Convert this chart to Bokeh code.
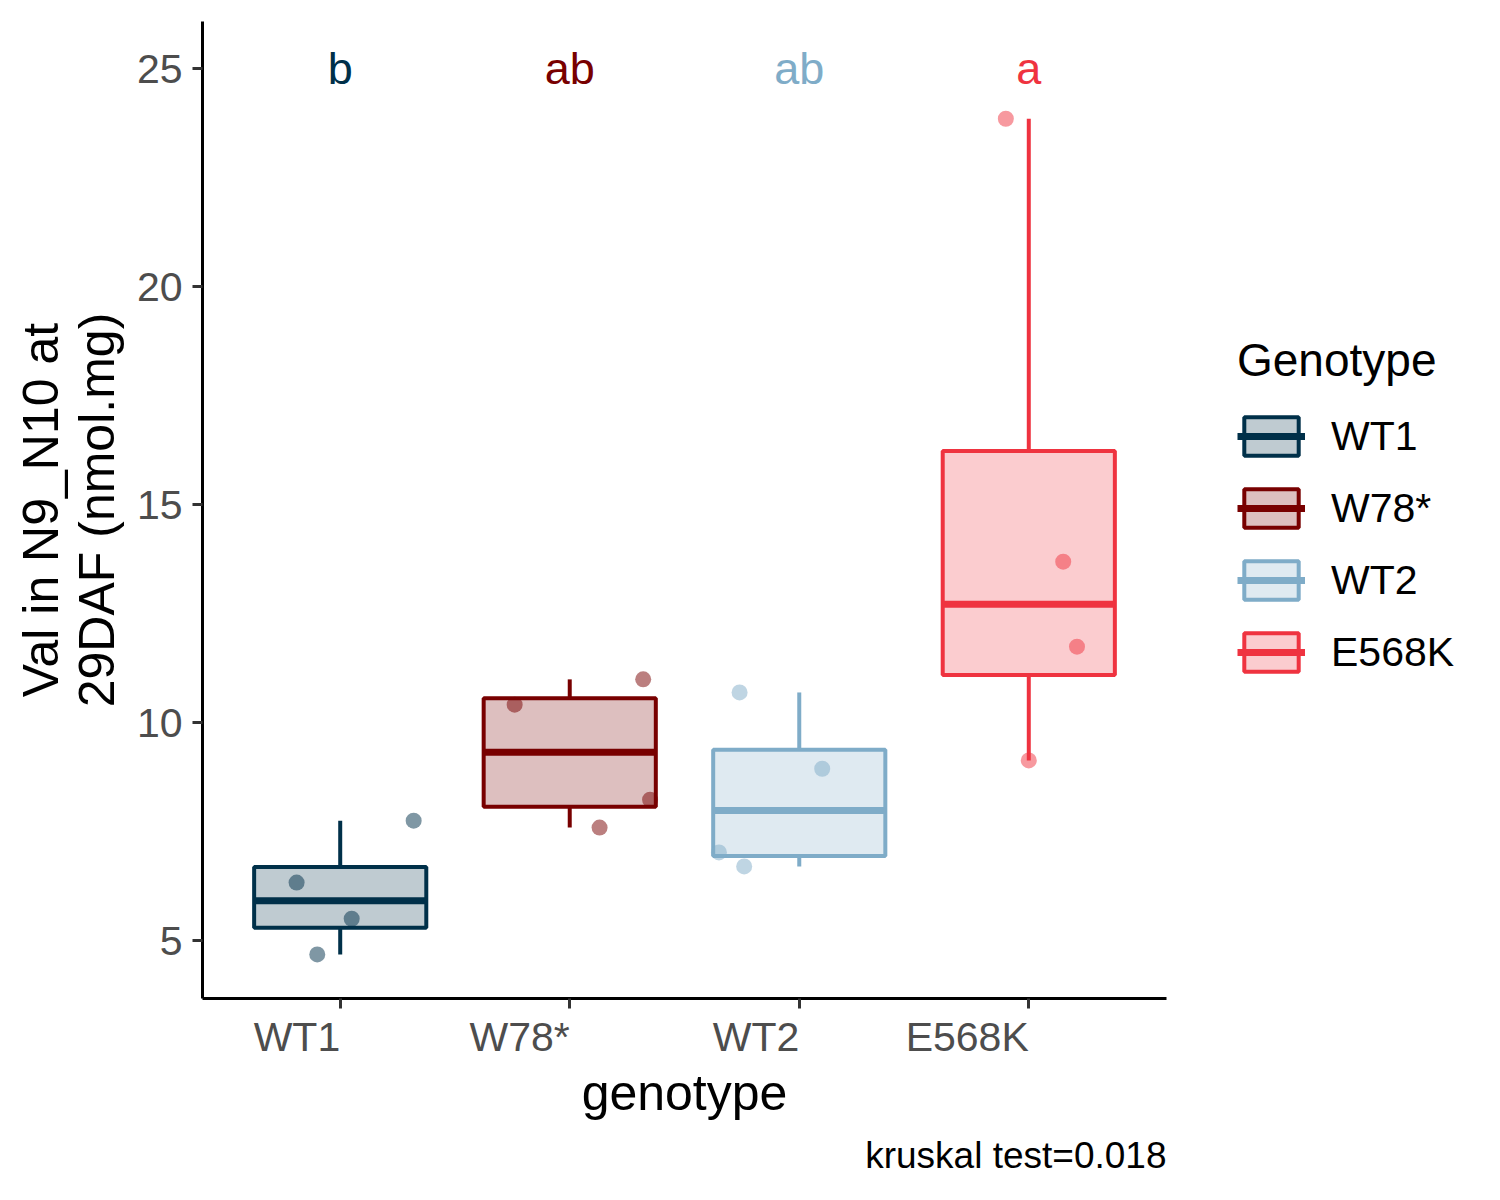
import numpy as np
from bokeh.plotting import figure
from bokeh.models import (ColumnDataSource, Range1d, FactorRange, FixedTicker,
                          Legend, LegendItem, Title)
from bokeh.embed import file_html
from bokeh.resources import INLINE

genotypes = ["WT1", "W78*", "WT2", "E568K"]
colors = ["#003049", "#780000", "#7FACC8", "#EF3340"]
letters = ["b", "ab", "ab", "a"]
letter_y = 25

# values, with the horizontal jitter of each point
values = {
    "WT1": [4.68, 5.50, 6.33, 7.75],
    "W78*": [7.59, 8.23, 10.41, 10.99],
    "WT2": [6.70, 7.02, 8.94, 10.69],
    "E568K": [9.13, 11.74, 13.69, 23.85],
}
jitter = {
    "WT1": [-0.10, 0.05, -0.19, 0.32],
    "W78*": [0.13, 0.35, -0.24, 0.32],
    "WT2": [-0.24, -0.35, 0.10, -0.26],
    "E568K": [0.0, 0.21, 0.15, -0.10],
}
y_ticks = [5, 10, 15, 20, 25]
caption = "kruskal test=0.018"

FONT = "Liberation Sans"
BOX_W = 0.75

# boxplot statistics (same rules as ggplot)
q1s, meds, q3s, lows, highs = [], [], [], [], []
for g in genotypes:
    v = np.array(values[g])
    q1, med, q3 = np.percentile(v, [25, 50, 75])
    iqr = q3 - q1
    lows.append(v[v >= q1 - 1.5 * iqr].min())
    highs.append(v[v <= q3 + 1.5 * iqr].max())
    q1s.append(q1)
    meds.append(med)
    q3s.append(q3)

box_src = ColumnDataSource(dict(
    g=genotypes, color=colors, q1=q1s, med=meds, q3=q3s, low=lows, high=highs,
    left=[(g, -BOX_W / 2) for g in genotypes],
    right=[(g, BOX_W / 2) for g in genotypes],
    letter=letters, ly=[letter_y] * len(genotypes),
))

pts_x, pts_y, pts_c = [], [], []
for g, c in zip(genotypes, colors):
    for v, j in zip(values[g], jitter[g]):
        pts_x.append((g, j))
        pts_y.append(v)
        pts_c.append(c)
pts_src = ColumnDataSource(dict(x=pts_x, y=pts_y, color=pts_c))

p = figure(x_range=FactorRange(*genotypes, range_padding=0.1, range_padding_units="absolute"),
           y_range=Range1d(3.67, 26.08),
           frame_width=964, frame_height=977,
           min_border_left=202, min_border_right=312, min_border_top=21, min_border_bottom=180,
           output_backend="svg", toolbar_location=None)
p.outline_line_color = None
p.grid.visible = False
p.background_fill_color = "white"
p.border_fill_color = "white"

# whiskers
p.segment(x0="g", y0="q3", x1="g", y1="high", source=box_src, line_color="color", line_width=4)
p.segment(x0="g", y0="low", x1="g", y1="q1", source=box_src, line_color="color", line_width=4)
# boxes
box_r = p.vbar(x="g", width=BOX_W, bottom="q1", top="q3", source=box_src,
               fill_color="color", fill_alpha=0.25, line_color="color", line_width=4)
med_r = p.segment(x0="left", y0="med", x1="right", y1="med", source=box_src,
                  line_color="color", line_width=7)
# jittered points
p.scatter(x="x", y="y", source=pts_src, size=16, fill_color="color", fill_alpha=0.5,
          line_color=None)
# significance letters
p.text(x="g", y="ly", text="letter", source=box_src, text_color="color",
       text_align="center", text_baseline="middle", text_font_size="45px",
       text_font={"value": FONT})

# axes
for ax in (p.xaxis[0], p.yaxis[0]):
    ax.axis_line_color = "black"
    ax.axis_line_width = 3
    ax.major_tick_line_color = "#333333"
    ax.major_tick_line_width = 3
    ax.major_tick_out = 10
    ax.major_tick_in = 0
    ax.minor_tick_line_color = None
    ax.axis_label_text_font = FONT
    ax.axis_label_text_font_size = "50px"
    ax.axis_label_text_font_style = "normal"
    ax.axis_label_text_color = "black"
    ax.major_label_text_font = FONT
    ax.major_label_text_font_size = "41px"
    ax.major_label_text_color = "#4D4D4D"

p.yaxis.ticker = FixedTicker(ticks=y_ticks)
p.yaxis.major_label_standoff = 10
p.yaxis.axis_label = "Val in N9_N10 at\n29DAF (nmol.mg)"
p.yaxis.axis_label_text_line_height = 1.0
p.yaxis.axis_label_standoff = 9

# a numeric orientation makes the labels right-aligned on their ticks, as in the reference
p.xaxis.major_label_orientation = 0.0001
p.xaxis.major_label_standoff = 28
p.xaxis.axis_label = "genotype"
p.xaxis.axis_label_standoff = -21

p.add_layout(Title(text=caption, align="right", text_font=FONT, text_font_size="37px",
                   text_font_style="normal", text_color="black", standoff=18), "below")

items = [LegendItem(label=g, renderers=[box_r, med_r], index=i) for i, g in enumerate(genotypes)]
legend = Legend(items=items, location=(71, 322), title="Genotype", margin=0,
                title_text_font=FONT, title_text_font_size="46px", title_text_font_style="normal",
                title_text_color="black", title_standoff=25,
                label_text_font=FONT, label_text_font_size="41px", label_text_color="black",
                glyph_width=68, glyph_height=48, label_standoff=26, spacing=24, padding=0,
                border_line_color=None, background_fill_alpha=0)
p.add_layout(legend, "right")

open("out.html", "w").write(file_html(p, INLINE))
